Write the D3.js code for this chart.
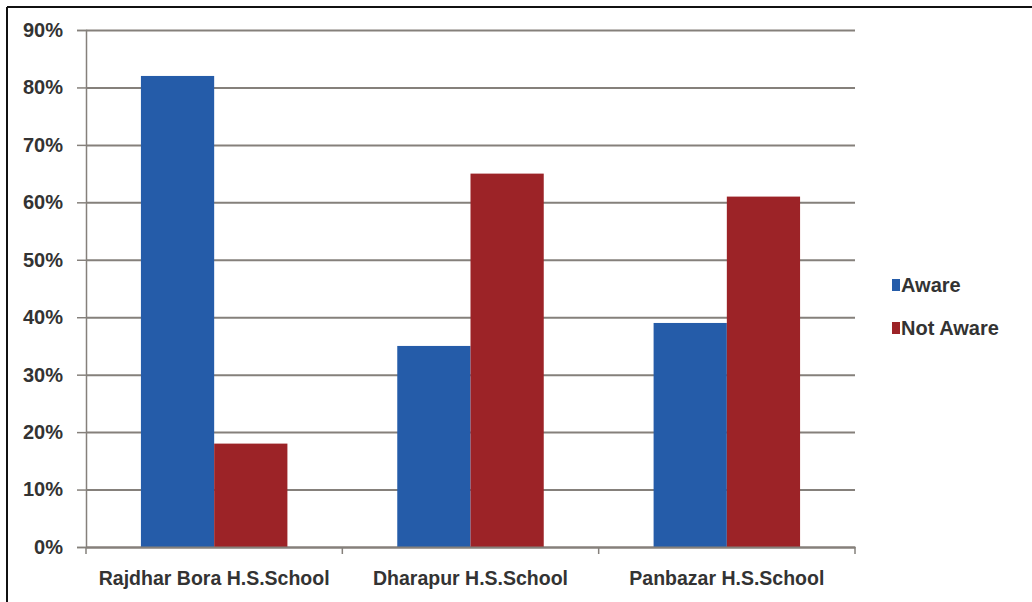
<!DOCTYPE html>
<html>
<head>
<meta charset="utf-8">
<script src="https://cdn.jsdelivr.net/npm/d3@7/dist/d3.min.js"></script>
<style>
  body { margin: 0; background: #fff; }
  svg { display: block; font-family: "Liberation Sans", Arial, sans-serif; }
</style>
</head>
<body>
<div id="chart"></div>
<script>
// Awareness by school — grouped bars
const schools = ['Rajdhar Bora H.S.School', 'Dharapur H.S.School', 'Panbazar H.S.School'];
const seriesNames = ['Aware', 'Not Aware'];
const aware = [82, 35, 39];
const notAware = [18, 65, 61];
const yTicks = [0, 10, 20, 30, 40, 50, 60, 70, 80, 90];

const colors = { 'Aware': '#255ca9', 'Not Aware': '#9c2327' };

const W = 1032, H = 602;
const margin = { top: 30, right: 177, bottom: 55, left: 86 };
const width = W - margin.left - margin.right;
const height = 547 - margin.top;
const gridColor = '#85807b';
const textColor = '#333';

const svg = d3.select('#chart').append('svg')
  .attr('width', W).attr('height', H);

// frame (top and left edges only)
svg.append('line').attr('x1', 7).attr('x2', W).attr('y1', 7).attr('y2', 7)
  .attr('stroke', '#111').attr('stroke-width', 2);
svg.append('line').attr('x1', 7).attr('x2', 7).attr('y1', 7).attr('y2', H)
  .attr('stroke', '#111').attr('stroke-width', 2);

const g = svg.append('g').attr('transform', `translate(${margin.left},${margin.top})`);

const rows = schools.map((s, i) => ({ school: s, 'Aware': aware[i], 'Not Aware': notAware[i] }));

const x0 = d3.scaleBand().domain(schools).range([0, width]).padding(0);
const gap = x0.bandwidth() * 1.5 / 3.5 / 2;
const x1 = d3.scaleBand().domain(seriesNames).range([gap, x0.bandwidth() - gap]).padding(0);
const y = d3.scaleLinear().domain([0, 90]).range([height, 0]);

// gridlines
const grid = g.append('g')
  .call(d3.axisLeft(y).tickValues(yTicks).tickSize(-width).tickFormat(''));
grid.select('.domain').remove();
grid.selectAll('.tick line').attr('stroke', gridColor).attr('stroke-width', 2);

// y axis
const yAxis = g.append('g')
  .call(d3.axisLeft(y).tickValues(yTicks).tickSize(9).tickPadding(14).tickFormat(d => d + '%'));
yAxis.select('.domain').attr('stroke', gridColor).attr('stroke-width', 1.5);
yAxis.selectAll('.tick line').attr('stroke', gridColor).attr('stroke-width', 1.5);
yAxis.selectAll('.tick text')
  .attr('font-family', '"Liberation Sans", Arial, sans-serif')
  .attr('font-size', '20px').attr('font-weight', 'bold').attr('fill', textColor);

// bars
const groups = g.selectAll('.grp').data(rows).join('g')
  .attr('transform', d => `translate(${x0(d.school)},0)`);
groups.selectAll('rect')
  .data(d => seriesNames.map(k => ({ key: k, value: d[k] })))
  .join('rect')
  .attr('x', d => x1(d.key))
  .attr('y', d => y(d.value))
  .attr('width', x1.bandwidth())
  .attr('height', d => height - y(d.value))
  .attr('fill', d => colors[d.key]);

// x axis
const xAxis = g.append('g').attr('transform', `translate(0,${height})`)
  .call(d3.axisBottom(x0).tickSize(0).tickPadding(24));
xAxis.select('.domain').attr('stroke', gridColor).attr('stroke-width', 2);
xAxis.selectAll('.tick text')
  .attr('font-family', '"Liberation Sans", Arial, sans-serif')
  .attr('font-size', '19.5px').attr('font-weight', 'bold').attr('fill', textColor);
xAxis.selectAll('.sep').data(d3.range(schools.length + 1)).join('line')
  .attr('class', 'sep')
  .attr('x1', i => i * x0.bandwidth()).attr('x2', i => i * x0.bandwidth())
  .attr('y1', 0).attr('y2', 7)
  .attr('stroke', gridColor).attr('stroke-width', 1.5);

// legend
const legend = svg.append('g').attr('transform', 'translate(892,285)');
seriesNames.forEach((name, i) => {
  const lg = legend.append('g').attr('transform', `translate(0,${i * 43})`);
  lg.append('rect').attr('x', 0).attr('y', -6).attr('width', 8).attr('height', 12)
    .attr('fill', colors[name]);
  lg.append('text').attr('x', 9).attr('y', 7)
    .attr('font-size', '20px').attr('font-weight', 'bold').attr('fill', textColor)
    .text(name);
});
</script>
</body>
</html>
